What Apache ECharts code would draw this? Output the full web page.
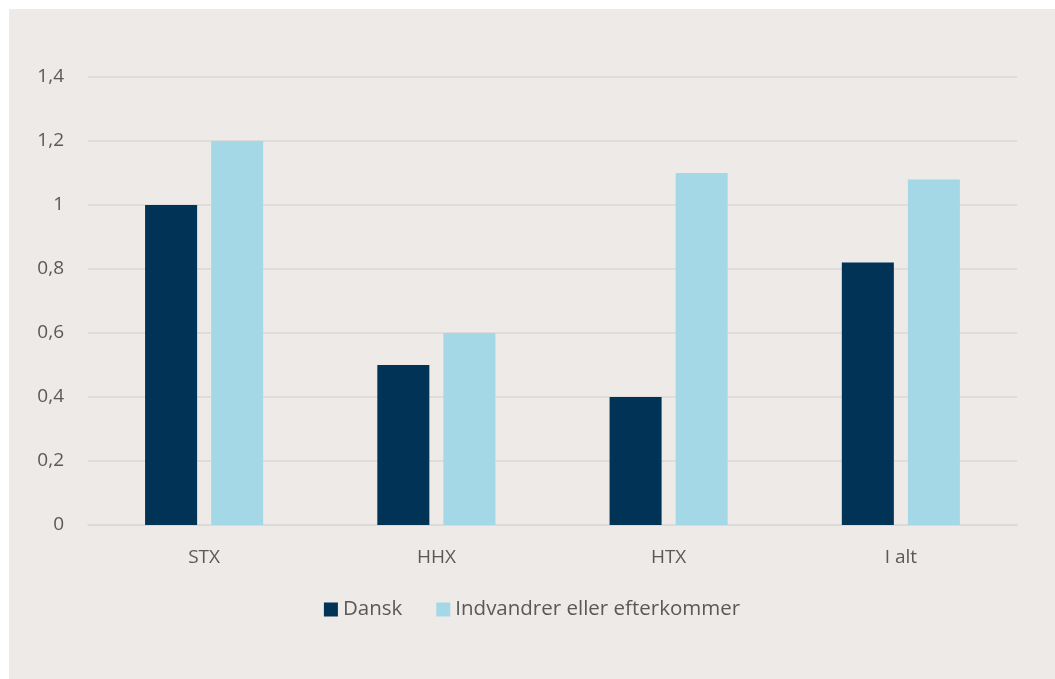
<!DOCTYPE html>
<html>
<head>
<meta charset="utf-8">
<script src="https://cdn.jsdelivr.net/npm/echarts@6/dist/echarts.min.js"></script>
<style>
  html, body { margin: 0; padding: 0; background: #ffffff; }
  #chartDiv { position: absolute; left: 9px; top: 9px; width: 1046px; height: 670px; background: #edeae7; }
</style>
</head>
<body>
<div id="chartDiv"></div>
<script>
    // data
    var categories = ["STX", "HHX", "HTX", "I alt"];
    var dansk = [1.0, 0.5, 0.4, 0.82];
    var indvandrer = [1.2, 0.6, 1.1, 1.08];
    var yTicks = [0, 0.2, 0.4, 0.6, 0.8, 1, 1.2, 1.4];

    var font = "'Open Sans', 'Noto Sans', sans-serif";
    var textColor = "#595959";

    var chart = echarts.init(document.getElementById('chartDiv'));
    chart.setOption({
        animation: false,
        textStyle: { fontFamily: font },
        grid: { left: 79, right: 38, top: 68, bottom: 154 },
        legend: {
            bottom: 54,
            left: 'center',
            itemWidth: 14,
            itemHeight: 14,
            itemGap: 34,
            icon: 'rect',
            textStyle: { color: textColor, fontSize: 20.5, fontFamily: font },
            data: ["Dansk", "Indvandrer eller efterkommer"]
        },
        xAxis: {
            type: 'category',
            data: categories,
            axisLine: { lineStyle: { color: '#d9d9d9', width: 1.5 } },
            axisTick: { show: false },
            axisLabel: { color: textColor, fontSize: 19, margin: 23 }
        },
        yAxis: {
            type: 'value',
            min: yTicks[0],
            max: yTicks[yTicks.length - 1],
            interval: 0.2,
            axisLine: { show: false },
            axisTick: { show: false },
            splitLine: { lineStyle: { color: '#d9d9d9', width: 1.5 } },
            axisLabel: {
                color: textColor, fontSize: 19, margin: 24,
                formatter: function (v) {
                    return String(Math.round(v * 10) / 10).replace('.', ',');
                }
            }
        },
        series: [
            {
                name: "Dansk",
                type: 'bar',
                data: dansk,
                barWidth: '22.4%',
                barGap: '27%',
                itemStyle: { color: '#003356' }
            },
            {
                name: "Indvandrer eller efterkommer",
                type: 'bar',
                data: indvandrer,
                barWidth: '22.4%',
                itemStyle: { color: '#a5d8e6' }
            }
        ]
    });
</script>
</body>
</html>
